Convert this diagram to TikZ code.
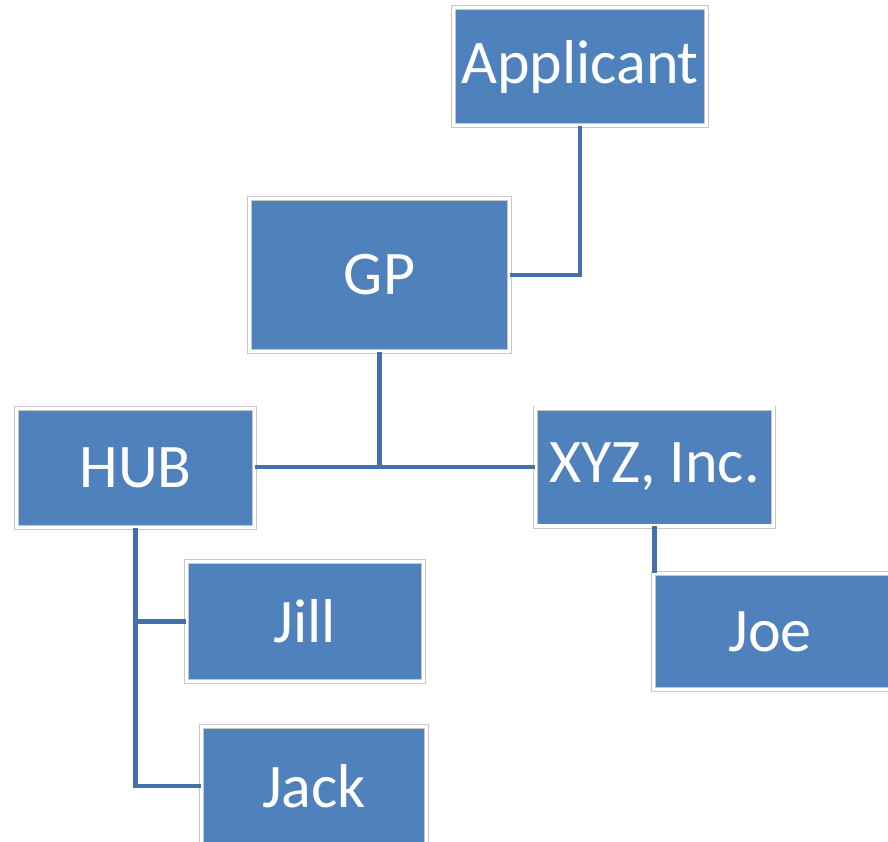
\documentclass[tikz,border=0pt]{standalone}
\usepackage{fontspec}
\setmainfont{Carlito}
\definecolor{boxblue}{RGB}{79,129,189}
\definecolor{lineblue}{RGB}{68,113,170}
\begin{document}
\begin{tikzpicture}[x=1pt,y=-1pt,
  orgbox/.style={rectangle, fill=boxblue, draw=black!22, line width=0.7pt,
    double=white, double distance=3.6pt, inner sep=0pt,
    text=white, font=\fontsize{62}{70}\selectfont},
  link/.style={draw=lineblue, line width=4.3pt}]
\useasboundingbox (0,0) rectangle (888,842);
\clip (0,0) rectangle (888,842);
\node[orgbox, minimum width=253pt, minimum height=118pt] (app) at (580,66.5) {Applicant};
\node[orgbox, minimum width=260pt, minimum height=153pt] (gp) at (379.5,275) {GP};
\node[orgbox, minimum width=238pt, minimum height=119pt] (hub) at (135.5,468) {HUB};
\node[orgbox, minimum width=238pt, minimum height=118pt] (xyz) at (654.5,467) {XYZ, Inc.};
\node[orgbox, minimum width=237pt, minimum height=120pt] (jill) at (305,621.5) {Jill};
\node[orgbox, minimum width=225pt, minimum height=119pt] (jack) at (314,786) {Jack};
\node[orgbox, minimum width=256pt, minimum height=116pt] (joe) at (781.5,631.5) {\kern-23pt Joe};
\coordinate (j1) at (gp.south |- xyz.west);
\draw[link] (app.south) |- (gp.east);
\draw[link] (gp.south) -- (j1);
\draw[link] (hub.east |- xyz.west) -- (xyz.west);
\draw[link] (xyz.south) -- (xyz.south |- joe.north);
\draw[link] (hub.south) |- (jack.west);
\draw[link] (hub.south |- jill.west) -- (jill.west);
\end{tikzpicture}
\end{document}
